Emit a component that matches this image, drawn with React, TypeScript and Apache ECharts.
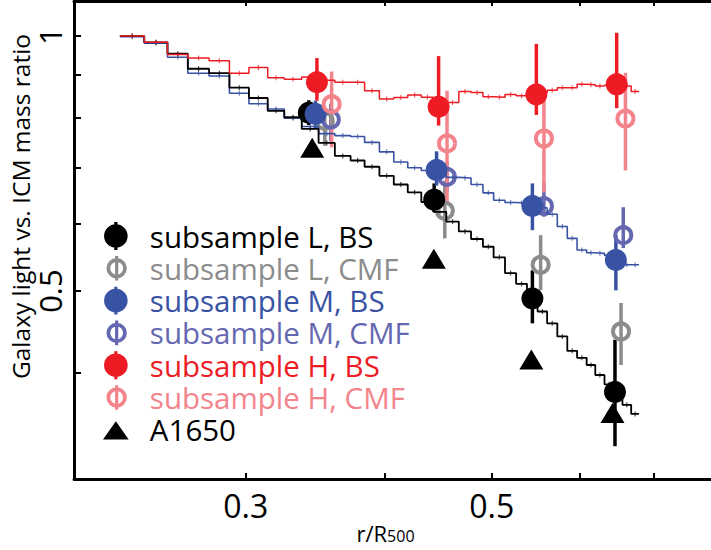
import React, { useEffect, useRef } from 'react';
import * as echarts from 'echarts';

// ---- axes ----
const xTicks = [0.3, 0.4, 0.5, 0.6, 0.7];
const xLabels = [0.3, 0.5];
const yTicks = [0.4, 0.5, 0.6, 0.7, 0.8, 0.9, 1.0];
const yLabels = [0.5, 1];

// ---- step profiles (bin edges + value per bin) ----
const binEdges = [0.231, 0.243, 0.255, 0.266, 0.278, 0.290, 0.302, 0.314, 0.325, 0.337, 0.349, 0.361, 0.373, 0.384, 0.396, 0.408, 0.420, 0.432, 0.443, 0.455, 0.467, 0.479, 0.491, 0.502, 0.514, 0.526, 0.538, 0.550, 0.561, 0.573, 0.585, 0.597, 0.609, 0.620, 0.632, 0.644, 0.656, 0.668, 0.679];
const profileL = [1.0, 0.983, 0.953, 0.915, 0.904, 0.869, 0.845, 0.816, 0.802, 0.777, 0.748, 0.722, 0.713, 0.701, 0.684, 0.668, 0.654, 0.637, 0.620, 0.604, 0.588, 0.576, 0.564, 0.548, 0.525, 0.510, 0.497, 0.473, 0.458, 0.442, 0.425, 0.417, 0.409, 0.398, 0.388, 0.377, 0.367, 0.358];
const profileM = [0.998, 0.981, 0.944, 0.904, 0.897, 0.856, 0.832, 0.820, 0.800, 0.782, 0.767, 0.763, 0.761, 0.749, 0.730, 0.710, 0.699, 0.694, 0.688, 0.681, 0.680, 0.668, 0.653, 0.640, 0.636, 0.635, 0.633, 0.627, 0.616, 0.596, 0.577, 0.559, 0.555, 0.554, 0.551, 0.544, 0.537, 0.537];
const profileH = [1.0, 0.983, 0.951, 0.942, 0.935, 0.904, 0.918, 0.893, 0.889, 0.895, 0.887, 0.882, 0.882, 0.862, 0.843, 0.846, 0.852, 0.847, 0.840, 0.835, 0.860, 0.858, 0.848, 0.847, 0.853, 0.850, 0.852, 0.857, 0.863, 0.869, 0.869, 0.877, 0.876, 0.873, 0.875, 0.873, 0.873, 0.860];

// ---- data points with error bars ----
const lBsX = [0.342, 0.4437, 0.5441, 0.6459];
const lBsY = [0.812, 0.641, 0.490, 0.380];
const lBsLo = [0.785, 0.620, 0.458, 0.328];
const lBsHi = [0.840, 0.670, 0.529, 0.438];

const lCmfX = [0.3535, 0.4536, 0.5535, 0.6541];
const lCmfY = [0.794, 0.622, 0.537, 0.448];
const lCmfLo = [0.742, 0.577, 0.501, 0.409];
const lCmfHi = [0.816, 0.675, 0.582, 0.484];

const mBsX = [0.3468, 0.4459, 0.5441, 0.6471];
const mBsY = [0.809, 0.695, 0.630, 0.544];
const mBsLo = [0.777, 0.666, 0.590, 0.501];
const mBsHi = [0.839, 0.731, 0.670, 0.582];

const mCmfX = [0.3580, 0.4556, 0.5573, 0.6571];
const mCmfY = [0.797, 0.682, 0.630, 0.582];
const mCmfLo = [0.752, 0.655, 0.612, 0.562];
const mCmfHi = [0.832, 0.710, 0.672, 0.628];

const hBsX = [0.3478, 0.4478, 0.5486, 0.6482];
const hBsY = [0.882, 0.825, 0.853, 0.877];
const hBsLo = [0.839, 0.784, 0.807, 0.822];
const hBsHi = [0.942, 0.947, 0.979, 1.009];

const hCmfX = [0.3586, 0.4557, 0.5573, 0.6601];
const hCmfY = [0.831, 0.747, 0.757, 0.799];
const hCmfLo = [0.739, 0.634, 0.654, 0.694];
const hCmfHi = [0.908, 0.862, 0.839, 0.905];

const a1650X = [0.3444, 0.4434, 0.5429, 0.6426];
const a1650Y = [0.738, 0.546, 0.415, 0.359];

const C = {
  black: '#000000',
  gray: '#8c8c8c',
  blue: '#3953a4',
  purple: '#6568b0',
  red: '#ed1c24',
  pink: '#f4848c',
};

const FONT = 'Open Sans';

const ICON_BS = 'path://M11,0 L11.01,0 L11,0.01 Z M11,28 L11.01,28 L11,27.99 Z M9.5,1 H12.5 V27 H9.5 Z M0,14 A11,11 0 1,1 22,14 A11,11 0 1,1 0,14 Z';
const ICON_CMF = 'path://M11,0 L11.01,0 L11,0.01 Z M11,28 L11.01,28 L11,27.99 Z M0,14 L0.01,14 L0,14.01 Z M9.5,2.5 H12.5 V25.5 H9.5 Z M1.5,14 A9.5,9.5 0 1,1 20.5,14 A9.5,9.5 0 1,1 1.5,14 Z M5,14 A6,6 0 1,0 17,14 A6,6 0 1,0 5,14 Z';
const ICON_TRI = 'path://M11,0 L11.01,0 L11,0.01 Z M11,28 L11.01,28 L11,27.99 Z M-1,23 L11,6 L23,23 Z';

function zip2(xs: number[], ys: number[]) {
  return xs.map((x, i) => [x, ys[i]]);
}
function stepData(vals: number[]) {
  const d = vals.map((v, i) => [binEdges[i], v]);
  d.push([binEdges[binEdges.length - 1], vals[vals.length - 1]]);
  return d;
}
function binCenters(vals: number[]) {
  return vals.map((v, i) => [(binEdges[i] + binEdges[i + 1]) / 2, v]);
}

function errSeries(name: string, xs: number[], lo: number[], hi: number[], color: string) {
  return {
    type: 'custom',
    name: name + ' error',
    data: xs.map((x, i) => [x, lo[i], hi[i]]),
    encode: { x: 0, y: [1, 2] },
    silent: true,
    renderItem: (_p: any, api: any) => {
      const a = api.coord([api.value(0), api.value(1)]);
      const b = api.coord([api.value(0), api.value(2)]);
      return {
        type: 'line',
        shape: { x1: a[0], y1: a[1], x2: b[0], y2: b[1] },
        style: { stroke: color, lineWidth: 3.5 },
      };
    },
  };
}

function filledSeries(name: string, xs: number[], ys: number[], color: string) {
  return {
    type: 'scatter',
    name,
    data: zip2(xs, ys),
    symbol: 'circle',
    symbolSize: 22,
    itemStyle: { color, opacity: 1 },
    silent: true,
  };
}

function ringSeries(name: string, xs: number[], ys: number[], color: string) {
  return {
    type: 'scatter',
    name,
    data: zip2(xs, ys),
    symbol: 'circle',
    symbolSize: 16,
    itemStyle: { color: 'rgba(0,0,0,0)', borderColor: color, borderWidth: 4, opacity: 1 },
    silent: true,
  };
}

function stepSeries(name: string, vals: number[], color: string, width: number) {
  return [
    {
      type: 'line',
      name,
      data: stepData(vals),
      step: 'end',
      symbol: 'none',
      lineStyle: { color, width },
      silent: true,
    },
    {
      type: 'scatter',
      name: name + ' bins',
      data: binCenters(vals),
      symbol: 'rect',
      symbolSize: [1.2, 5],
      itemStyle: { color, opacity: 0.7 },
      silent: true,
    },
  ];
}

const axisLineStyle = { color: '#000', width: 3 };

export default function App() {
  const ref = useRef<HTMLDivElement>(null);
  useEffect(() => {
    if (!ref.current) return;
    const chart = echarts.init(ref.current, undefined, { renderer: 'svg' });
    const legendItem = (name: string, icon: string, color: string) => ({
      name,
      icon,
      itemStyle: { color, borderWidth: 0, opacity: 1 },
      textStyle: { color },
    });
    const option: any = {
      animation: false,
      backgroundColor: '#ffffff',
      textStyle: { fontFamily: FONT },
      grid: { left: 74, right: -7, top: 1, bottom: 71, outerBoundsMode: 'none', containLabel: false },
      legend: {
        orient: 'vertical',
        left: 98,
        top: 216,
        itemWidth: 58,
        itemHeight: 30,
        itemGap: 2.3,
        selectedMode: false,
        textStyle: { fontFamily: FONT, fontSize: 29.5, lineHeight: 30 },
        data: [
          legendItem('subsample L, BS', ICON_BS, C.black),
          legendItem('subsample L, CMF', ICON_CMF, C.gray),
          legendItem('subsample M, BS', ICON_BS, C.blue),
          legendItem('subsample M, CMF', ICON_CMF, C.purple),
          legendItem('subsample H, BS', ICON_BS, C.red),
          legendItem('subsample H, CMF', ICON_CMF, C.pink),
          legendItem('A1650', ICON_TRI, C.black),
        ],
      },
      xAxis: [
        {
          type: 'log',
          logBase: 10,
          min: 0.21,
          max: 0.8,
          position: 'bottom',
          name: '{a|r/R}{b|500}',
          nameLocation: 'middle',
          nameGap: 43,
          nameMoveOverlap: false,
          nameTextStyle: {
            padding: [0, 21, 0, 0],
            rich: {
              a: { fontFamily: FONT, fontSize: 22, lineHeight: 22, verticalAlign: 'middle', color: '#000' },
              b: { fontFamily: FONT, fontSize: 16, lineHeight: 18, verticalAlign: 'bottom', color: '#000' },
            },
          },
          axisLine: { onZero: false, lineStyle: axisLineStyle },
          axisTick: { inside: true, length: 6, customValues: xTicks, lineStyle: { color: '#000', width: 2 } },
          minorTick: { show: false },
          axisLabel: {
            customValues: xLabels,
            fontFamily: FONT,
            fontSize: 32,
            color: '#000',
            margin: 10,
            formatter: (v: number) => String(Math.round(v * 100) / 100),
          },
          splitLine: { show: false },
        },
        {
          type: 'log',
          logBase: 10,
          min: 0.21,
          max: 0.8,
          position: 'top',
          axisLine: { onZero: false, lineStyle: axisLineStyle },
          axisTick: { inside: true, length: 5, customValues: xTicks, lineStyle: { color: '#000', width: 2 } },
          axisLabel: { show: false },
          splitLine: { show: false },
        },
      ],
      yAxis: [
        {
          type: 'log',
          logBase: 10,
          min: 0.3,
          max: 1.1,
          position: 'left',
          name: 'Galaxy light vs. ICM mass ratio',
          nameLocation: 'middle',
          nameGap: 41,
          nameRotate: 90,
          nameMoveOverlap: false,
          nameTextStyle: { fontFamily: FONT, fontSize: 24.5, color: '#000', padding: [0, 0, 0, 67] },
          axisLine: { onZero: false, lineStyle: axisLineStyle },
          axisTick: { inside: true, length: 7, customValues: yTicks, lineStyle: { color: '#000', width: 2 } },
          axisLabel: {
            customValues: yLabels,
            rotate: 90,
            fontFamily: FONT,
            fontSize: 31,
            color: '#000',
            margin: 9,
            formatter: (v: number) => String(Math.round(v * 100) / 100),
          },
          splitLine: { show: false },
        },
      ],
      series: [
        ...stepSeries('profile M', profileM, C.blue, 1.6),
        ...stepSeries('profile L', profileL, C.black, 1.8),
        ...stepSeries('profile H', profileH, C.red, 1.5),
        errSeries('subsample L, CMF', lCmfX, lCmfLo, lCmfHi, C.gray),
        ringSeries('subsample L, CMF', lCmfX, lCmfY, C.gray),
        errSeries('subsample L, BS', lBsX, lBsLo, lBsHi, C.black),
        filledSeries('subsample L, BS', lBsX, lBsY, C.black),
        errSeries('subsample M, CMF', mCmfX, mCmfLo, mCmfHi, C.purple),
        ringSeries('subsample M, CMF', mCmfX, mCmfY, C.purple),
        errSeries('subsample M, BS', mBsX, mBsLo, mBsHi, C.blue),
        filledSeries('subsample M, BS', mBsX, mBsY, C.blue),
        errSeries('subsample H, CMF', hCmfX, hCmfLo, hCmfHi, C.pink),
        ringSeries('subsample H, CMF', hCmfX, hCmfY, C.pink),
        errSeries('subsample H, BS', hBsX, hBsLo, hBsHi, C.red),
        filledSeries('subsample H, BS', hBsX, hBsY, C.red),
        {
          type: 'scatter',
          name: 'A1650',
          data: zip2(a1650X, a1650Y),
          symbol: 'triangle',
          symbolSize: [24, 20],
          itemStyle: { color: C.black, opacity: 1 },
          silent: true,
        },
      ],
    };
    chart.setOption(option);
    return () => chart.dispose();
  }, []);
  return (
    <div
      ref={ref}
      style={{ position: 'absolute', left: 0, top: 0, width: 711, height: 550, background: '#fff' }}
    />
  );
}
